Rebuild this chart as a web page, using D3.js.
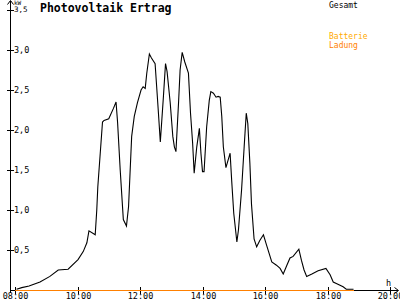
<!DOCTYPE html>
<html>
<head>
<meta charset="utf-8">
<script src="https://cdn.jsdelivr.net/npm/d3@7"></script>
<style>
  body { margin: 0; background: #fff; }
  text { font-family: "DejaVu Sans Mono", monospace; }
</style>
</head>
<body>
<div id="chart"></div>
<script>
// Photovoltaik Ertrag - daily curve

// Gesamt (kW), time as HH:MM
var gesamtTimes = ["08:03","08:13","08:27","08:48","09:07","09:23","09:42","10:01","10:11","10:18",
  "10:22","10:34","10:37","10:39","10:48","10:51","11:00","11:09","11:14","11:17",
  "11:22","11:28","11:34","11:38","11:44","11:49","11:55","12:02","12:06","12:10",
  "12:13","12:18","12:22","12:29","12:32","12:35","12:39","12:45","12:49","12:52",
  "12:58","13:03","13:06","13:09","13:14","13:17","13:21","13:26","13:33","13:37",
  "13:41","13:44","13:49","13:54","13:57","14:00","14:03","14:08","14:13","14:16",
  "14:21","14:26","14:30","14:34","14:37","14:40","14:45","14:53","14:56","15:00",
  "15:06","15:09","15:15","15:20","15:24","15:27","15:31","15:34","15:39","15:44",
  "15:50","15:57","16:03","16:13","16:22","16:29","16:35","16:42","16:48","16:54",
  "17:05","17:10","17:15","17:20","17:30","17:42","17:57","18:05","18:11","18:21",
  "18:30","18:36","18:50"];
var gesamtValues = [0.01,0.03,0.05,0.10,0.17,0.25,0.26,0.38,0.48,0.59,
  0.74,0.69,1.00,1.29,2.10,2.12,2.14,2.27,2.35,2.09,
  1.50,0.88,0.80,1.04,1.92,2.17,2.34,2.50,2.54,2.52,
  2.71,2.95,2.90,2.83,2.54,2.25,1.85,2.42,2.83,2.73,
  2.34,1.92,1.79,1.73,2.34,2.75,2.97,2.85,2.71,2.21,
  1.84,1.46,1.79,2.02,1.71,1.48,1.48,2.04,2.37,2.48,
  2.46,2.41,2.42,2.41,2.17,1.79,1.53,1.71,1.37,0.96,
  0.60,0.75,1.25,1.79,2.21,2.08,1.58,1.08,0.64,0.54,
  0.62,0.69,0.56,0.35,0.31,0.27,0.20,0.31,0.40,0.42,
  0.51,0.37,0.25,0.17,0.20,0.24,0.27,0.19,0.10,0.07,
  0.04,0.01,0.01];

// Ladung (battery charge), flat at zero
var ladungTimes = ["08:00","18:50"];
var ladungValues = [0, 0];

var yTicks = [0.5, 1.0, 1.5, 2.0, 2.5, 3.0, 3.5];
var xTicks = ["08:00","10:00","12:00","14:00","16:00","18:00","20:00"];

var legendNames = ["Gesamt", "Batterie", "Ladung"];
var legendColors = ["#000000", "#ffaa00", "#ff8000"];

var width = 400, height = 300;

function toHours(s) {
  var p = s.split(":");
  return +p[0] + (+p[1]) / 60;
}

var x = d3.scaleLinear().domain([8, 20]).range([15, 390]);
var y = d3.scaleLinear().domain([0, 3.5]).range([290, 10]);

var svg = d3.select("#chart").append("svg")
  .attr("width", width)
  .attr("height", height)
  .style("display", "block");

var fmt = function(v) { return d3.format(".1f")(v).replace(".", ","); };

// axes (drawn by hand, old-style pixel chart)
var axes = svg.append("g")
  .attr("stroke", "#000")
  .attr("shape-rendering", "crispEdges");

axes.append("line").attr("x1", 10.5).attr("x2", 10.5).attr("y1", 293).attr("y2", 1);
axes.append("line").attr("x1", 10).attr("x2", 398).attr("y1", 290.5).attr("y2", 290.5);

// arrows
svg.append("path")
  .attr("d", "M7.5,4.5 L10.5,0.5 L13.5,4.5")
  .attr("fill", "none").attr("stroke", "#000");
svg.append("path")
  .attr("d", "M394.5,287.5 L398.5,290.5 L394.5,293.5")
  .attr("fill", "none").attr("stroke", "#000");

// y ticks
yTicks.forEach(function(t) {
  var yy = Math.round(y(t)) + 0.5;
  axes.append("line").attr("x1", 7).attr("x2", 14).attr("y1", yy).attr("y2", yy);
  svg.append("text")
    .attr("x", 14)
    .attr("y", yy + (t === 3.5 ? -1 : 0))
    .attr("dy", "0.35em")
    .attr("font-size", (t === 3.5 ? "7.5px" : "8.5px"))
    .attr("fill", "#000")
    .text(fmt(t));
});

svg.append("text")
  .attr("x", 14).attr("y", 4.5)
  .attr("font-size", "6px")
  .attr("fill", "#000")
  .text("kW");

// x ticks
xTicks.forEach(function(t) {
  var xx = Math.round(x(toHours(t))) + 0.5;
  axes.append("line").attr("x1", xx).attr("x2", xx).attr("y1", 287).attr("y2", 294);
  svg.append("text")
    .attr("x", xx)
    .attr("y", 299)
    .attr("text-anchor", "middle")
    .attr("font-size", "8.5px")
    .attr("fill", "#000")
    .text(t);
});

svg.append("text")
  .attr("x", 386).attr("y", 286)
  .attr("font-size", "8.5px")
  .attr("fill", "#000")
  .text("h");

// title
svg.append("text")
  .attr("x", 40).attr("y", 12)
  .attr("font-size", "11.5px")
  .attr("font-weight", "bold")
  .attr("fill", "#000")
  .text("Photovoltaik Ertrag");

// series
var line = d3.line()
  .x(function(d) { return x(d.t); })
  .y(function(d) { return y(d.v); });

var ladung = ladungTimes.map(function(t, i) { return { t: toHours(t), v: ladungValues[i] }; });
var gesamt = gesamtTimes.map(function(t, i) { return { t: toHours(t), v: gesamtValues[i] }; });

svg.append("path")
  .datum(gesamt)
  .attr("d", line)
  .attr("fill", "none")
  .attr("stroke", "#000")
  .attr("stroke-width", 1.1);

svg.append("path")
  .datum(ladung)
  .attr("d", line)
  .attr("transform", "translate(0,0.5)")
  .attr("fill", "none")
  .attr("stroke", legendColors[2])
  .attr("stroke-width", 1)
  .attr("shape-rendering", "crispEdges");

// legend
var legendY = [8, 39, 47.5];
svg.selectAll(".legend")
  .data(legendNames)
  .enter().append("text")
  .attr("class", "legend")
  .attr("x", 329)
  .attr("y", function(d, i) { return legendY[i]; })
  .attr("font-size", "8px")
  .attr("fill", function(d, i) { return legendColors[i]; })
  .text(function(d) { return d; });
</script>
</body>
</html>
